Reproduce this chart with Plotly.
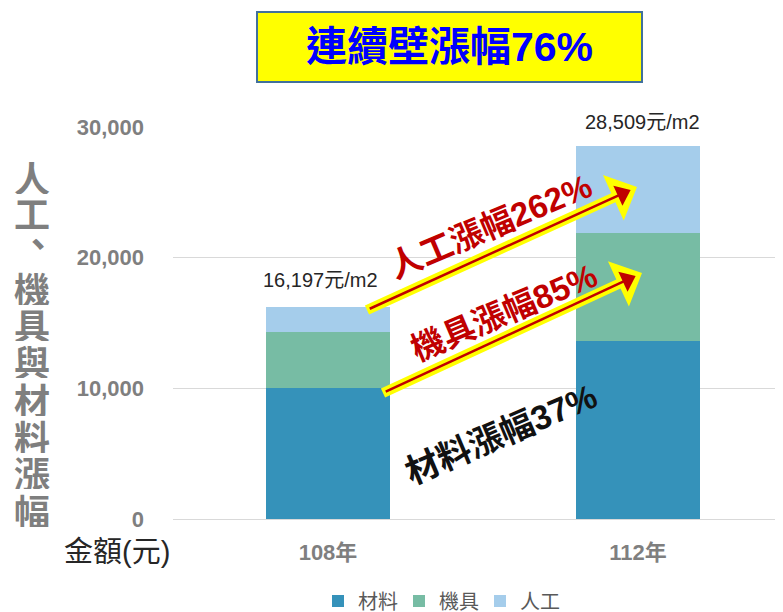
import math
import plotly.graph_objects as go

# ---------------- data ----------------
categories = ["108年", "112年"]
materials = [10000, 13600]
machinery = [4300, 8250]
labor = [1897, 6659]
series_names = ["材料", "機具", "人工"]
yticks = [0, 10000, 20000, 30000]
title_text = "連續壁漲幅76%"
rise_labels = ["人工漲幅262%", "機具漲幅85%", "材料漲幅37%"]
yaxis_title_chars = ["人", "工", "、", "機", "具", "與", "材", "料", "漲", "幅"]
unit_label = "金額(元)"

colors = ["#3592BA", "#77BCA4", "#A5CDEB"]
LATIN = "Liberation Sans, Noto Sans CJK TC, sans-serif"

OFF = 8  # page body margin
W, H = 783 - OFF, 612 - OFF
L, R, T, B = 173 - OFF, 0, 127 - OFF, 93
PW, PH = W - L - R, H - T - B


def px(x, y):
    """page pixel -> paper coords"""
    return (x - OFF - L) / PW, (H - B - (y - OFF)) / PH


fig = go.Figure()
for name, vals, c in zip(series_names, [materials, machinery, labor], colors):
    fig.add_trace(go.Bar(x=[0, 1], y=vals, name=name, marker=dict(color=c, line=dict(width=0)),
                         width=0.4, hoverinfo="skip"))

totals = [a + b + c for a, b, c in zip(materials, machinery, labor)]
annotations = []
for i, (tot, xs, ys) in enumerate(zip(totals, [-8, 4], [14, 11])):
    annotations.append(dict(x=i, y=tot, xref="x", yref="y", text=f"{tot:,}元/m2", showarrow=False,
                            yanchor="bottom", xanchor="center", yshift=ys, xshift=xs,
                            font=dict(family=LATIN, size=20, color="#262626")))

# y-axis title (vertical characters)
char_pos = [(32, 177), (32, 212), (38, 242), (32, 288), (32, 324), (32, 361),
            (32, 399), (32, 436), (32, 472), (32, 510)]
char_h = [34, 34, 18, 34, 34, 34, 34, 34, 34, 34]
for ch, (cx, cy), hh in zip(yaxis_title_chars, char_pos, char_h):
    xp, yp = px(cx, cy)
    annotations.append(dict(x=xp, y=yp, xref="paper", yref="paper", text=ch, showarrow=False,
                            xanchor="center", yanchor="middle", height=hh, borderpad=0, valign="middle",
                            font=dict(family="Noto Sans CJK TC", size=36, color="#7F7F7F", weight="bold")))

# unit label
xp, yp = px(117, 552)
annotations.append(dict(x=xp, y=yp, xref="paper", yref="paper", text=unit_label, showarrow=False,
                        xanchor="center", yanchor="middle",
                        font=dict(family=LATIN, size=29, color="#262626")))

# title
xp, yp = px(449, 47)
annotations.append(dict(x=xp, y=yp, xref="paper", yref="paper", text=title_text, showarrow=False,
                        xanchor="center", yanchor="middle",
                        font=dict(family=LATIN, size=41, color="#0000FF", weight="bold")))

# rotated rise labels
rise_pos = [(490, 226), (504, 312), (501, 434)]
rise_col = ["#C00000", "#C00000", "#111111"]
rise_size = [33, 33, 34]
for txt, (cx, cy), col, sz in zip(rise_labels, rise_pos, rise_col, rise_size):
    xp, yp = px(cx, cy)
    annotations.append(dict(x=xp, y=yp, xref="paper", yref="paper", text=txt, showarrow=False,
                            xanchor="center", yanchor="middle", textangle=-23,
                            font=dict(family=LATIN, size=sz, color=col, weight="bold")))

shapes = []
x0, y0 = px(257, 12)
x1, y1 = px(642, 82)
shapes.append(dict(type="rect", xref="paper", yref="paper", x0=x0, y0=y1, x1=x1, y1=y0,
                   fillcolor="#FFFF00", line=dict(color="#41719C", width=2), layer="above"))


def path_from(points):
    pts = [px(a, b) for a, b in points]
    return "M " + " L ".join(f"{a:.5f},{b:.5f}" for a, b in pts) + " Z"


def arrow(tail, tip):
    dx, dy = tip[0] - tail[0], tip[1] - tail[1]
    ln = math.hypot(dx, dy)
    ux, uy = dx / ln, dy / ln
    nx, ny = -uy, ux
    sh, hl, hh = 5, 26, 25
    bx, by = tip[0] - hl * ux, tip[1] - hl * uy
    yellow = [
        (tail[0] + nx * sh, tail[1] + ny * sh),
        (bx + nx * sh, by + ny * sh),
        (bx + nx * hh, by + ny * hh),
        tip,
        (bx - nx * hh, by - ny * hh),
        (bx - nx * sh, by - ny * sh),
        (tail[0] - nx * sh, tail[1] - ny * sh),
    ]
    shapes.append(dict(type="path", xref="paper", yref="paper", path=path_from(yellow),
                       fillcolor="#FFFF00", line=dict(width=0), layer="above"))
    rt = (tip[0] - 7 * ux, tip[1] - 7 * uy)
    rb = (tip[0] - 21 * ux, tip[1] - 21 * uy)
    red = [(rb[0] + nx * 11, rb[1] + ny * 11), rt, (rb[0] - nx * 11, rb[1] - ny * 11)]
    shapes.append(dict(type="path", xref="paper", yref="paper", path=path_from(red),
                       fillcolor="#C00000", line=dict(width=0), layer="above"))
    a = px(tail[0] + 3 * ux, tail[1] + 3 * uy)
    b = px(rb[0] + 2 * ux, rb[1] + 2 * uy)
    shapes.append(dict(type="line", xref="paper", yref="paper", x0=a[0], y0=a[1], x1=b[0], y1=b[1],
                       line=dict(color="#C00000", width=2.5), layer="above"))


arrow((367, 310), (637, 187))
arrow((383, 393), (642, 273))

fig.update_layout(
    width=W, height=H,
    margin=dict(l=L, r=R, t=T, b=B, pad=0),
    barmode="stack",
    plot_bgcolor="white", paper_bgcolor="white",
    showlegend=True,
    legend=dict(orientation="h", xref="container", yref="container",
                x=(318 - OFF) / W, y=(H - (601 - OFF)) / H, xanchor="left", yanchor="middle",
                entrywidth=36, entrywidthmode="pixels",
                font=dict(family=LATIN, size=20, color="#595959"), traceorder="normal"),
    xaxis=dict(range=[-0.5, -0.5 + PW / 310], tickvals=[0, 1], ticktext=categories,
               showgrid=False, zeroline=False, showline=False, ticks="",
               tickfont=dict(family=LATIN, size=22, color="#7F7F7F", weight="bold"),
               ticklabelstandoff=18, fixedrange=True),
    yaxis=dict(range=[0, 30000], tickvals=yticks, tickformat=",", showgrid=True,
               gridcolor="#D9D9D9", gridwidth=1.3, zeroline=True, zerolinecolor="#D9D9D9",
               zerolinewidth=1.3, showline=False, ticks="",
               tickfont=dict(family=LATIN, size=22, color="#7F7F7F", weight="bold"),
               ticklabelstandoff=28, fixedrange=True),
    annotations=annotations,
    shapes=shapes,
)

fig.write_html("out.html")
